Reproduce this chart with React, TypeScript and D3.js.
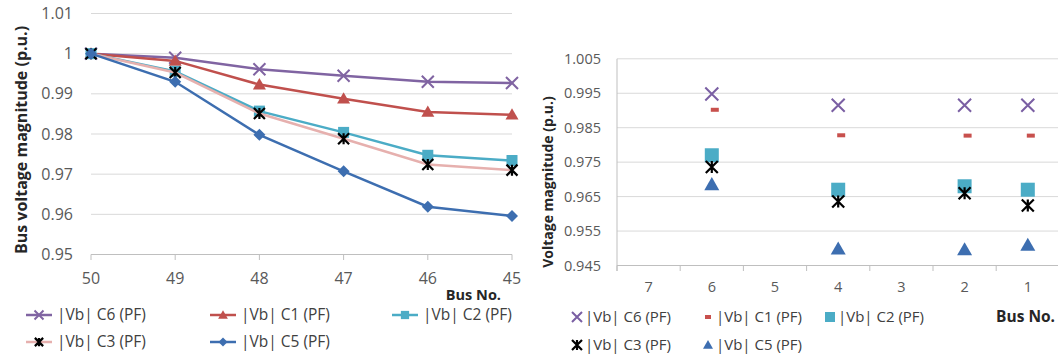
import React from 'react';
import * as d3 from 'd3';

// Left chart: feeder buses 50..45
const leftBuses = [50, 49, 48, 47, 46, 45];
const leftC6 = [1.0, 0.999, 0.9961, 0.9945, 0.993, 0.9927];
const leftC1 = [1.0, 0.9982, 0.9923, 0.9888, 0.9855, 0.9848];
const leftC2 = [1.0, 0.9956, 0.9857, 0.9804, 0.9747, 0.9734];
const leftC3 = [1.0, 0.9953, 0.9851, 0.9788, 0.9724, 0.971];
const leftC5 = [1.0, 0.993, 0.9798, 0.9707, 0.9619, 0.9596];
const leftTicks = [0.95, 0.96, 0.97, 0.98, 0.99, 1.0, 1.01];

// Right chart: buses 7..1 (values only on 6, 4, 2, 1)
const rightBuses = [7, 6, 5, 4, 3, 2, 1];
const rightPointBuses = [6, 4, 2, 1];
const rightC6 = [0.9948, 0.9915, 0.9915, 0.9915];
const rightC1 = [0.9902, 0.9828, 0.9827, 0.9827];
const rightC2 = [0.977, 0.967, 0.968, 0.967];
const rightC3 = [0.9736, 0.9636, 0.966, 0.9624];
const rightC5 = [0.9685, 0.9498, 0.9496, 0.9509];
const rightTicks = [0.945, 0.955, 0.965, 0.975, 0.985, 0.995, 1.005];

const FONT = '"Open Sans", sans-serif';
const GRID = '#d9d9d9';
const AXIS = '#bfbfbf';
const TICK_TEXT = '#595959';

type Shape = 'x' | 'triangle' | 'square' | 'star' | 'diamond' | 'dash';

const Marker: React.FC<{ shape: Shape; x: number; y: number; color: string; size: number }> = ({ shape, x, y, color, size }) => {
  const h = size / 2;
  switch (shape) {
    case 'x':
      return (
        <path d={`M${x - h},${y - h}L${x + h},${y + h}M${x - h},${y + h}L${x + h},${y - h}`}
          stroke={color} strokeWidth={2} fill="none" />
      );
    case 'star':
      return (
        <path d={`M${x - h},${y - h}L${x + h},${y + h}M${x - h},${y + h}L${x + h},${y - h}M${x},${y - h}L${x},${y + h}`}
          stroke={color} strokeWidth={2.2} fill="none" />
      );
    case 'triangle':
      return <path d={`M${x},${y - h}L${x + h},${y + h * 0.75}L${x - h},${y + h * 0.75}Z`} fill={color} />;
    case 'square':
      return <rect x={x - h} y={y - h} width={size} height={size} fill={color} />;
    case 'diamond':
      return <path d={`M${x},${y - h}L${x + h},${y}L${x},${y + h}L${x - h},${y}Z`} fill={color} />;
    case 'dash':
      return <rect x={x - h + 3} y={y - 2} width={size} height={4} fill={color} />;
  }
};

const leftSeries = [
  { name: '|Vb| C6 (PF)', values: leftC6, line: '#8064a2', marker: '#8064a2', shape: 'x' as Shape, size: 12 },
  { name: '|Vb| C1 (PF)', values: leftC1, line: '#c0504d', marker: '#c0504d', shape: 'triangle' as Shape, size: 13 },
  { name: '|Vb| C2 (PF)', values: leftC2, line: '#4bacc6', marker: '#4bacc6', shape: 'square' as Shape, size: 11 },
  { name: '|Vb| C3 (PF)', values: leftC3, line: '#e6b0ae', marker: '#000000', shape: 'star' as Shape, size: 11 },
  { name: '|Vb| C5 (PF)', values: leftC5, line: '#3d6eb0', marker: '#3d6eb0', shape: 'diamond' as Shape, size: 12 },
];

const rightSeries = [
  { name: '|Vb| C6 (PF)', values: rightC6, color: '#7a5fa3', shape: 'x' as Shape, size: 13 },
  { name: '|Vb| C1 (PF)', values: rightC1, color: '#c8504d', shape: 'dash' as Shape, size: 8 },
  { name: '|Vb| C2 (PF)', values: rightC2, color: '#4bacc6', shape: 'square' as Shape, size: 14 },
  { name: '|Vb| C3 (PF)', values: rightC3, color: '#000000', shape: 'star' as Shape, size: 12 },
  { name: '|Vb| C5 (PF)', values: rightC5, color: '#3d6eb0', shape: 'triangle' as Shape, size: 15 },
];

const App: React.FC = () => {
  // Left chart scales
  const lx = d3.scalePoint<number>().domain(leftBuses).range([91, 512]);
  const ly = d3.scaleLinear().domain([0.95, 1.01]).range([254.5, 13.5]);
  const line = d3.line<number>()
    .x((_, i) => lx(leftBuses[i]) as number)
    .y(d => ly(d));

  // Right chart scales
  const rx = d3.scaleBand<number>().domain(rightBuses).range([617, 1059.4]);
  const ry = d3.scaleLinear().domain([0.945, 1.005]).range([265.5, 58.8]);
  const rcx = (b: number) => (rx(b) as number) + rx.bandwidth() / 2;

  const leftLegendPos = [
    { x: 26, y: 315 }, { x: 210, y: 315 }, { x: 392, y: 315 },
    { x: 26, y: 342 }, { x: 210, y: 342 },
  ];
  const rightLegendPos = [
    { x: 577, y: 317 }, { x: 708, y: 317 }, { x: 830, y: 317 },
    { x: 577, y: 345 }, { x: 708, y: 345 },
  ];

  return (
    <div style={{ position: 'absolute', left: 0, top: 0 }}>
      <svg width={1058} height={358} style={{ display: 'block', background: '#fff' }} fontFamily={FONT}>
        {/* ---------- left chart ---------- */}
        {leftTicks.map(t => (
          <g key={`lg${t}`}>
            <line x1={91} x2={512} y1={ly(t)} y2={ly(t)} stroke={t === 0.95 ? AXIS : GRID} strokeWidth={1} />
            <text x={73} y={ly(t)} dy="0.35em" textAnchor="end" fontSize={16} fill={TICK_TEXT}>
              {d3.format('')(+t.toFixed(2))}
            </text>
          </g>
        ))}
        {leftBuses.map(b => (
          <g key={`lx${b}`}>
            <line x1={lx(b)} x2={lx(b)} y1={254.5} y2={260} stroke={AXIS} />
            <text x={lx(b)} y={278} dy="0.35em" textAnchor="middle" fontSize={16} fill={TICK_TEXT}>{b}</text>
          </g>
        ))}
        <text x={501} y={295} dy="0.35em" textAnchor="end" fontSize={14.5} fontWeight="bold" fill="#262626">Bus No.</text>
        <text transform="translate(21,140) rotate(-90)" textAnchor="middle" dy="0.35em" fontSize={16} fontWeight="bold" fill="#262626">
          Bus voltage magnitude (p.u.)
        </text>
        {leftSeries.map(s => (
          <g key={`ls${s.name}`}>
            <path d={line(s.values) || ''} fill="none" stroke={s.line} strokeWidth={2.5} />
            {s.values.map((v, i) => (
              <Marker key={i} shape={s.shape} x={lx(leftBuses[i]) as number} y={ly(v)} color={s.marker} size={s.size} />
            ))}
          </g>
        ))}
        {leftSeries.map((s, i) => {
          const p = leftLegendPos[i];
          return (
            <g key={`ll${s.name}`}>
              <line x1={p.x} x2={p.x + 26} y1={p.y} y2={p.y} stroke={s.line} strokeWidth={2.5} />
              <Marker shape={s.shape} x={p.x + 13} y={p.y} color={s.marker} size={s.size * 0.75} />
              <text x={p.x + 31} y={p.y} dy="0.35em" fontSize={15.5} fill="#404040">{s.name}</text>
            </g>
          );
        })}

        {/* ---------- right chart ---------- */}
        {rightTicks.map(t => (
          <g key={`rg${t}`}>
            <line x1={617} x2={1058} y1={ry(t)} y2={ry(t)} stroke={t === 0.945 ? AXIS : GRID} strokeWidth={1} />
            <text x={601} y={ry(t)} dy="0.35em" textAnchor="end" fontSize={14.5} fill={TICK_TEXT}>{t.toFixed(3)}</text>
          </g>
        ))}
        <line x1={617} x2={617} y1={58.8} y2={271} stroke={AXIS} />
        {rightBuses.map(b => (
          <g key={`rx${b}`}>
            <line x1={rx(b)} x2={rx(b)} y1={265.5} y2={271} stroke={AXIS} />
            <text x={rcx(b)} y={287} dy="0.35em" textAnchor="middle" fontSize={14.5} fill={TICK_TEXT}>{b}</text>
          </g>
        ))}
        <text transform="translate(548,182) rotate(-90)" textAnchor="middle" dy="0.35em" fontSize={14} fontWeight="bold" fill="#262626">
          Voltage magnitude (p.u.)
        </text>
        {rightSeries.map(s => (
          <g key={`rs${s.name}`}>
            {s.values.map((v, i) => (
              <Marker key={i} shape={s.shape} x={rcx(rightPointBuses[i])} y={ry(v)} color={s.color} size={s.size} />
            ))}
          </g>
        ))}
        {rightSeries.map((s, i) => {
          const p = rightLegendPos[i];
          return (
            <g key={`rl${s.name}`}>
              <Marker shape={s.shape} x={s.shape === 'dash' ? p.x - 3 : p.x} y={p.y} color={s.color} size={s.shape === 'dash' ? 6 : 10} />
              <text x={p.x + 8} y={p.y} dy="0.35em" fontSize={15} fill="#404040">{s.name}</text>
            </g>
          );
        })}
        <text x={1055} y={317} dy="0.35em" textAnchor="end" fontSize={15.5} fontWeight="bold" fill="#262626">Bus No.</text>
      </svg>
    </div>
  );
};

export default App;
